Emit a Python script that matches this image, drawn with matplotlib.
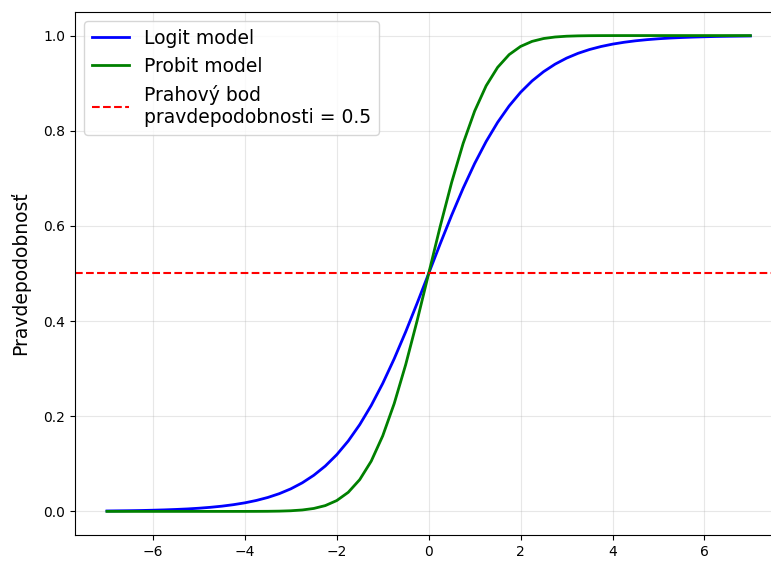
import numpy as np
import matplotlib
matplotlib.use("Agg")
import matplotlib.pyplot as plt

# sample positions along x
x_vals = np.arange(-7, 7.001, 0.25)

logit_pos = [0.5, 0.5622, 0.6225, 0.6792, 0.7311, 0.7773, 0.8176, 0.8520, 0.8808,
             0.9047, 0.9241, 0.9399, 0.9526, 0.9627, 0.9707, 0.9770, 0.9820,
             0.9859, 0.9890, 0.9914, 0.9933, 0.9948, 0.9959, 0.9968, 0.9975,
             0.9981, 0.9985, 0.9988, 0.9991]
probit_pos = [0.5, 0.5987, 0.6915, 0.7734, 0.8413, 0.8944, 0.9332, 0.9599, 0.9772,
              0.9878, 0.9938, 0.9970, 0.99865, 0.99942, 0.99977, 0.99991, 0.99997,
              0.99999, 1.0, 1.0, 1.0, 1.0, 1.0, 1.0, 1.0, 1.0, 1.0, 1.0, 1.0]

logit_vals = [round(1 - v, 5) for v in logit_pos[:0:-1]] + logit_pos
probit_vals = [round(1 - v, 5) for v in probit_pos[:0:-1]] + probit_pos

threshold = 0.5

fig = plt.figure(figsize=(7.71, 5.61), dpi=100)
ax = fig.add_axes([0.097, 0.046, 0.918, 0.933])

ax.plot(x_vals, logit_vals, color="blue", lw=2, label="Logit model")
ax.plot(x_vals, probit_vals, color="green", lw=2, label="Probit model")
ax.axhline(threshold, color="red", ls="--", lw=1.5,
           label="Prahový bod\npravdepodobnosti = 0.5")

ax.spines["right"].set_visible(False)
ax.set_ylabel("Pravdepodobnosť", fontsize=13.5, labelpad=9)
ax.grid(True, alpha=0.3)
ax.legend(loc="upper left", fontsize=13.5)

fig.savefig("out.png", dpi=100)
